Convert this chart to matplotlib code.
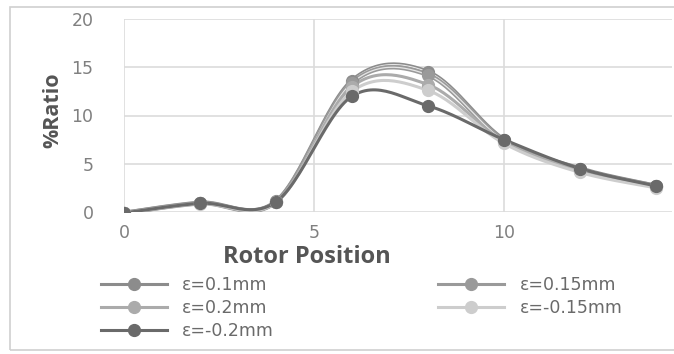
import numpy as np
import matplotlib.pyplot as plt
from matplotlib.patches import Rectangle

plt.rcParams['font.family'] = ['Open Sans', 'DejaVu Sans']

# ----------------------- Data ---------------------------
rotor_pos = [0, 2, 4, 6, 8, 10, 12, 14]
ratio_p010 = [-0.1, 0.95, 1.1, 13.6, 14.5, 7.5, 4.5, 2.7]
ratio_p015 = [-0.1, 0.9, 1.05, 13.4, 14.2, 7.4, 4.4, 2.7]
ratio_p020 = [-0.1, 0.9, 1.05, 13.0, 13.2, 7.3, 4.3, 2.6]
ratio_m015 = [-0.1, 0.85, 1.0, 12.5, 12.6, 7.1, 4.1, 2.5]
ratio_m020 = [-0.1, 0.9, 1.05, 12.0, 11.0, 7.5, 4.5, 2.7]

labels = ["ε=0.1mm", "ε=0.15mm", "ε=0.2mm", "ε=-0.15mm", "ε=-0.2mm"]
series = [ratio_p010, ratio_p015, ratio_p020, ratio_m015, ratio_m020]
colors = ["#8c8c8c", "#9a9a9a", "#ababab", "#cdcdcd", "#6a6a6a"]
double_line = [True, True, False, False, False]


def smooth(x, y, n=30):
    # Bezier smoothing through the points (same style as spreadsheet smoothed lines)
    x = np.asarray(x, float)
    y = np.asarray(y, float)
    px = np.concatenate([[x[0]], x, [x[-1]]])
    py = np.concatenate([[y[0]], y, [y[-1]]])
    xs, ys = [], []
    t = np.linspace(0, 1, n)
    for i in range(1, len(px) - 2):
        p0 = np.array([px[i - 1], py[i - 1]])
        p1 = np.array([px[i], py[i]])
        p2 = np.array([px[i + 1], py[i + 1]])
        p3 = np.array([px[i + 2], py[i + 2]])
        c1 = p1 + (p2 - p0) / 6
        c2 = p2 - (p3 - p1) / 6
        b = ((1 - t) ** 3)[:, None] * p1 + (3 * (1 - t) ** 2 * t)[:, None] * c1 \
            + (3 * (1 - t) * t ** 2)[:, None] * c2 + (t ** 3)[:, None] * p2
        xs.extend(b[:, 0])
        ys.extend(b[:, 1])
    return np.array(xs), np.array(ys)


# ----------------------- Plotting ---------------------------
fig = plt.figure(figsize=(6.74, 3.54), dpi=100)
ax = fig.add_axes([124 / 674, 1 - 212 / 354, 548 / 674, 193 / 354])

fig.patches.append(Rectangle((10 / 674, 4 / 354), 0.99, 1 - 11 / 354,
                             transform=fig.transFigure, fill=False,
                             edgecolor="#d0d0d0", linewidth=1.2))

handles = []
for y, lab, col, dbl in zip(series, labels, colors, double_line):
    sx, sy = smooth(rotor_pos, y)
    ax.plot(sx, sy, color=col, linewidth=3.2 if dbl else 2.2,
            solid_capstyle="round", zorder=3)
    if dbl:
        ax.plot(sx, sy, color="#e6e6e6", linewidth=0.9, zorder=3)
    ax.plot(rotor_pos, y, linestyle="none", marker="o", markersize=8.5,
            color=col, zorder=4)
    h, = ax.plot([], [], color=col, linewidth=2.2, marker="o",
                 markersize=8.5, label=lab)
    handles.append(h)

ax.set_xlim(0, 14.42)
ax.set_ylim(0, 20)
ax.set_xticks([0, 5, 10])
ax.set_yticks([0, 5, 10, 15, 20])
ax.grid(True, color="#dcdcdc", linewidth=1.2)
ax.set_axisbelow(True)
for s in ax.spines.values():
    s.set_visible(False)
ax.tick_params(length=0, labelsize=12.5, labelcolor="#808080", pad=22)
ax.tick_params(axis="x", pad=9)
for t in ax.get_xticklabels() + ax.get_yticklabels():
    t.set_fontfamily("DejaVu Sans")

ax.set_xlabel("Rotor Position", fontsize=17, fontweight="bold",
              color="#555555")
ax.xaxis.set_label_coords((307 - 124) / 548, -(257 - 212) / 193, )
ax.xaxis.label.set_va("center")
ax.set_ylabel("%Ratio", fontsize=15.5, fontweight="bold", color="#555555")
ax.yaxis.set_label_coords(-(124 - 53) / 548, (212 - 110) / 193)
ax.yaxis.label.set_va("center")

# Legend, row-wise order in two columns
order = [0, 2, 4, 1, 3]
fig.legend([handles[i] for i in order], [labels[i] for i in order],
           ncol=2, loc="upper left", bbox_to_anchor=(85 / 674, 1 - 260 / 354),
           frameon=False, prop={"family": "DejaVu Sans", "size": 12.5},
           handlelength=3.8, handletextpad=0.9,
           columnspacing=9.45, labelspacing=0.3, labelcolor="#6a6a6a")

plt.savefig("out.png", dpi=100)
